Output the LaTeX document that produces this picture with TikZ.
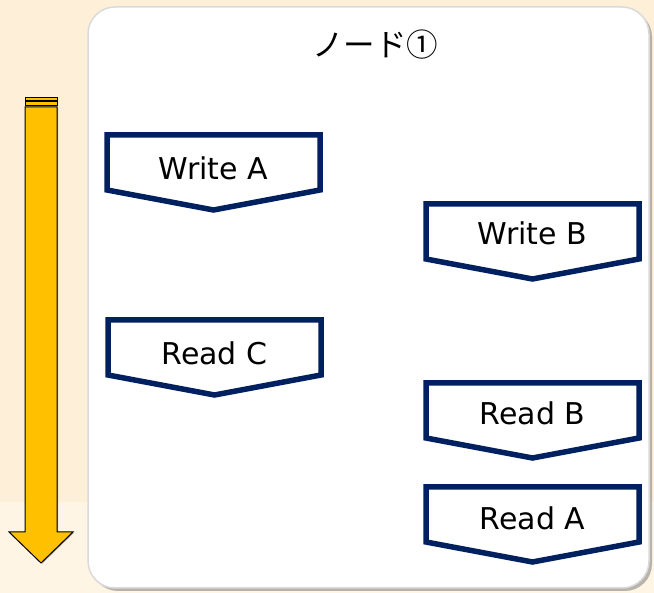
\documentclass[tikz,border=0pt]{standalone}
\usepackage{fontspec}
\setmainfont{DejaVu Sans}
\newfontfamily\jpfont{Noto Sans CJK JP}
\usetikzlibrary{shadows}

\definecolor{creamtop}{HTML}{FDEFD8}
\definecolor{creambottom}{HTML}{FEF5E5}
\definecolor{navyedge}{HTML}{002060}
\definecolor{goldarrow}{HTML}{FFC000}
\definecolor{paneledge}{HTML}{DADADA}

\tikzset{
  flowedge/.style={draw=navyedge, line width=5.5pt, fill=white, line join=miter},
  flowlabel/.style={font=\fontsize{30}{36}\selectfont, text=black, inner sep=0pt},
  panelbox/.style={fill=white, draw=paneledge, line width=1.5pt, rounded corners=27pt,
    drop shadow={shadow xshift=3pt, shadow yshift=-3pt, opacity=0.45, fill=black!60}},
  timearrow/.style={fill=goldarrow, draw=black, line width=1pt, line join=miter,
    drop shadow={shadow xshift=1.2pt, shadow yshift=-0.6pt, opacity=0.5, fill=black!70}},
}

% downward chevron box: name, left x, top y, label, baseline offset
\newcommand{\flowbox}[5]{%
  \draw[flowedge] (#2,#3) -- ++(213,0) -- ++(0,55) -- ++(-106.5,20) -- ++(-106.5,-20) -- cycle;
  \node[flowlabel, anchor=base] (#1) at (#2+106.5,#3+#5) {#4};
}

\begin{document}
\begin{tikzpicture}[x=1pt, y=-1pt]
  \useasboundingbox (0,0) rectangle (654,593);
  % background
  \fill[creamtop] (0,0) rectangle (654,502);
  \fill[creambottom] (0,502) rectangle (654,593);

  % time arrow
  \draw[timearrow] (25,107) -- (57,107) -- (57,532) -- (73,532) -- (41,563)
    -- (9,532) -- (25,532) -- cycle;
  \draw[fill=goldarrow, draw=black, line width=0.9pt] (25,97) rectangle (57,100);
  \draw[fill=goldarrow, draw=black, line width=0.9pt] (25,101.8) rectangle (57,105.5);

  % node panel
  \draw[panelbox] (88,7) rectangle (649,588);
  \node[font=\jpfont\fontsize{31.5}{36}\selectfont, inner sep=0pt] (title) at (375,45) {ノード①};

  % operations
  \flowbox{wa}{107}{135}{Write A}{45}
  \flowbox{wb}{426}{204}{Write B}{41}
  \flowbox{rc}{108}{320}{Read C}{45}
  \flowbox{rb}{426}{383}{Read B}{42}
  \flowbox{ra}{426}{487}{Read A}{43}
\end{tikzpicture}
\end{document}
